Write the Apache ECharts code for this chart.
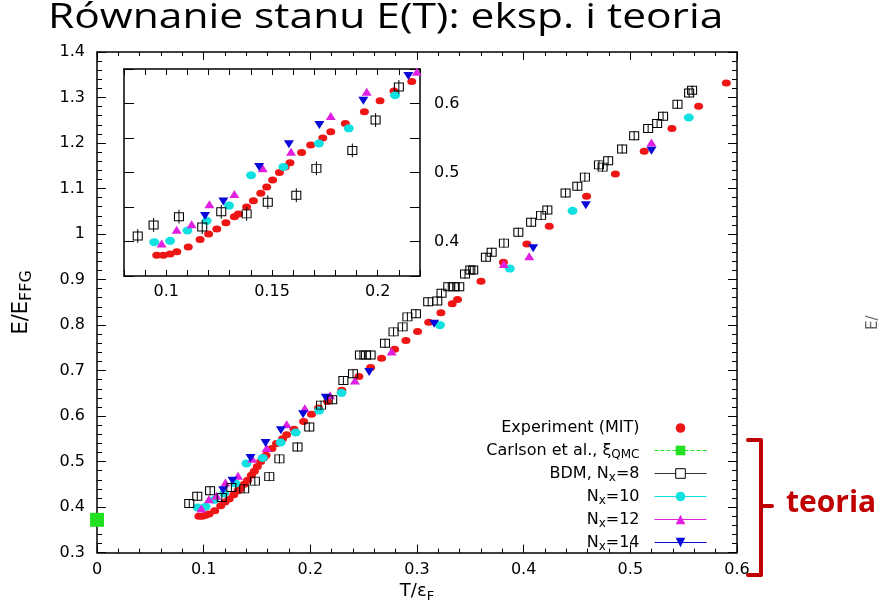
<!DOCTYPE html>
<html><head><meta charset="utf-8">
<script src="https://cdn.jsdelivr.net/npm/echarts@6/dist/echarts.min.js"></script>
<style>html,body{margin:0;padding:0;background:#fff}#c{width:879px;height:608px}</style>
</head><body><div id="c"></div>
<script>
// ---------------- data ----------------
const expT = [0.0955,0.0986,0.1018,0.105,0.1104,0.116,0.120,0.1239,0.1282,0.1322,0.1341,0.138,0.1412,0.1447,0.1475,0.1503,0.1535,0.1562,0.1585,0.164,0.1683,0.174,0.1778,0.1847,0.1937,0.2011,0.2077,0.2161,0.2295,0.2455,0.2565,0.2668,0.279,0.2896,0.3005,0.311,0.3224,0.333,0.338,0.360,0.381,0.403,0.424,0.459,0.486,0.513,0.539,0.564,0.590];
const expE = [0.380,0.380,0.382,0.385,0.392,0.403,0.411,0.418,0.427,0.436,0.440,0.450,0.459,0.470,0.479,0.489,0.500,0.508,0.514,0.529,0.540,0.550,0.559,0.571,0.588,0.604,0.618,0.632,0.657,0.687,0.707,0.727,0.747,0.766,0.786,0.806,0.827,0.847,0.856,0.896,0.938,0.978,1.017,1.083,1.132,1.182,1.232,1.281,1.332];

const carlsonT = [0];
const carlsonE = [0.372];

const bdmT = [0.0865,0.094,0.106,0.117,0.126,0.138,0.148,0.1615,0.171,0.188,0.199,0.210,0.2205,0.231,0.240,0.2465,0.2521,0.2565,0.270,0.278,0.2865,0.291,0.299,0.3105,0.319,0.323,0.3293,0.3346,0.3396,0.345,0.350,0.3527,0.3646,0.370,0.3815,0.395,0.407,0.4163,0.4222,0.4393,0.4503,0.4574,0.4706,0.474,0.4792,0.4923,0.5036,0.5167,0.5251,0.5307,0.5442,0.5551,0.5579];
const bdmE = [0.408,0.424,0.436,0.421,0.443,0.440,0.457,0.467,0.506,0.532,0.576,0.624,0.636,0.678,0.693,0.734,0.734,0.734,0.760,0.785,0.796,0.818,0.825,0.851,0.853,0.870,0.884,0.884,0.884,0.912,0.921,0.921,0.949,0.960,0.980,1.004,1.026,1.041,1.053,1.090,1.105,1.125,1.152,1.147,1.161,1.187,1.216,1.232,1.243,1.259,1.285,1.310,1.316];
const bdmErr = 0.01;

const n10T = [0.0943,0.1018,0.110,0.1191,0.1297,0.1401,0.1554,0.1722,0.1863,0.2082,0.2293,0.3215,0.387,0.4458,0.5548];
const n10E = [0.399,0.401,0.416,0.430,0.452,0.496,0.508,0.542,0.564,0.612,0.651,0.800,0.924,1.051,1.256];

const n12T = [0.0978,0.1049,0.112,0.1204,0.1322,0.1456,0.159,0.1778,0.1948,0.2185,0.2418,0.2762,0.3814,0.4052,0.5198];
const n12E = [0.397,0.417,0.425,0.454,0.469,0.506,0.530,0.582,0.617,0.646,0.678,0.742,0.934,0.951,1.201];

const n14T = [0.1183,0.127,0.1439,0.158,0.1724,0.1932,0.2145,0.2552,0.3161,0.4089,0.4583,0.5198];
const n14E = [0.437,0.458,0.508,0.541,0.569,0.604,0.640,0.697,0.803,0.969,1.063,1.183];

const seriesNames = ['Experiment (MIT)','Carlson et al., ξQMC','BDM, Nx=8','Nx=10','Nx=12','Nx=14'];
const legendTexts = ['Experiment (MIT)','Carlson et al., ξ{s|QMC}','BDM, N{s|x}=8','N{s|x}=10','N{s|x}=12','N{s|x}=14'];
const insetXLabels = ['0.1','0.15','0.2'];
const insetYLabels = ['0.4','0.5','0.6'];

// ---------------- styles ----------------
const FONT = 'DejaVu Sans';
const C = {exp:'#ee1515', carlson:'#22e022', bdm:'#000', n10:'#10e0e0', n12:'#e020e0', n14:'#0808d8'};

const pairs = (a,b) => a.map((v,i)=>[v,b[i]]);

function sc(name, T, E, g, sty) {
  return Object.assign({
    type:'line', name, data:pairs(T,E),
    xAxisIndex: g===0?0:2, yAxisIndex: g===0?0:2,
    lineStyle:{width:0}, showAllSymbol:true, clip:true, silent:true,
    emphasis:{disabled:true}, animation:false
  }, sty);
}
function errBars(g) {
  return {
    type:'custom', name:'bdm-err', xAxisIndex: g===0?0:2, yAxisIndex: g===0?0:2,
    clip:true, silent:true, z:5,
    data: bdmT.map((t,i)=>[t, bdmE[i]-bdmErr, bdmE[i]+bdmErr]),
    renderItem:(params, api) => {
      const a = api.coord([api.value(0), api.value(1)]);
      const b = api.coord([api.value(0), api.value(2)]);
      return {type:'line', shape:{x1:a[0],y1:a[1],x2:b[0],y2:b[1]}, style:{stroke:'#000', lineWidth:1}};
    }
  };
}
function seriesFor(g) {
  const out = [
    sc(seriesNames[0], expT, expE, g, {symbol:'circle', symbolSize:[9,7], itemStyle:{color:C.exp}, z:2}),
    sc(seriesNames[3], n10T, n10E, g, {symbol:'circle', symbolSize:[10,8], itemStyle:{color:C.n10}, z:3}),
    sc(seriesNames[4], n12T, n12E, g, {symbol:'triangle', symbolSize:[10,8], itemStyle:{color:C.n12}, z:3}),
    sc(seriesNames[5], n14T, n14E, g, {symbol:'triangle', symbolRotate:180, symbolSize:[10,8], itemStyle:{color:C.n14}, z:3}),
    sc(seriesNames[2], bdmT, bdmE, g, {symbol:'rect', symbolSize:[9,8], itemStyle:{color:'rgba(0,0,0,0)', borderColor:'#000', borderWidth:1}, z:4}),
    errBars(g)
  ];
  if (g===0) out.splice(1,0, sc(seriesNames[1], carlsonT, carlsonE, 0, {symbol:'rect', symbolSize:14, itemStyle:{color:C.carlson}, clip:false, z:3}));
  return out;
}

const lbl = {color:'#000', fontFamily:FONT, fontSize:16};
const axLine = {show:true, onZero:false, lineStyle:{color:'#000', width:1.5}};

function mainX(pos, show) {
  return {type:'value', gridIndex:0, position:pos, min:0, max:0.6, interval:0.1,
    axisLine:axLine, splitLine:{show:false},
    axisTick:{show:true, inside:true, length:8, lineStyle:{color:'#000', width:1}},
    minorTick:{show:true, splitNumber:5, length:4, lineStyle:{color:'#000', width:1}},
    axisLabel:Object.assign({show:show, margin:9}, lbl),
    name: show ? 'T/ε{s|F}' : '', nameLocation:'middle', nameGap:26,
    nameTextStyle:{color:'#000', fontFamily:FONT, fontSize:18, rich:{s:{fontSize:13, fontFamily:FONT, color:'#000', padding:[10,0,0,0]}}}};
}
function mainY(pos, show) {
  return {type:'value', gridIndex:0, position:pos, min:0.3, max:1.4, interval:0.1,
    axisLine:axLine, splitLine:{show:false},
    axisTick:{show:true, inside:true, length:9, lineStyle:{color:'#000', width:1}},
    minorTick:{show:true, splitNumber:5, length:5, lineStyle:{color:'#000', width:1}},
    axisLabel:Object.assign({show:show, margin:12}, lbl),
    name: show ? 'E/E{s|FFG}' : '', nameLocation:'middle', nameRotate:90, nameGap:62,
    nameTextStyle:{color:'#000', fontFamily:FONT, fontSize:21, rich:{s:{fontSize:16, fontFamily:FONT, color:'#000', padding:[11,0,0,0]}}}};
}
function insetX(pos, show) {
  return {type:'value', gridIndex:1, position:pos, min:0.08, max:0.22, interval:0.01,
    axisLine:axLine, splitLine:{show:false},
    axisTick:{show:true, inside:true, length:6, lineStyle:{color:'#000', width:1}},
    axisLabel:Object.assign({show:show, margin:8, showMinLabel:true, showMaxLabel:true,
      formatter:v=>{const r=Math.round(v*100); const i=[10,15,20].indexOf(r); return (i>=0 && Math.abs(v*100-r)<1e-6)?insetXLabels[i]:'';}}, lbl)};
}
function insetY(pos, show) {
  return {type:'value', gridIndex:1, position:pos, min:0.35, max:0.65, interval:0.05,
    axisLine:axLine, splitLine:{show:false},
    axisTick:{show:true, inside:true, length:10, lineStyle:{color:'#000', width:1}},
    axisLabel:Object.assign({show:show, margin:14,
      formatter:v=>{const r=Math.round(v*100); const i=[40,50,60].indexOf(r); return i>=0?insetYLabels[i]:'';}}, lbl)};
}

const legendData = [
  {name:seriesNames[0]},
  {name:seriesNames[1], lineStyle:{width:1, color:C.carlson, type:'dashed'}},
  {name:seriesNames[2], lineStyle:{width:1, color:'#333'}, itemStyle:{color:'#fff', borderColor:'#000', borderWidth:1}},
  {name:seriesNames[3], lineStyle:{width:1, color:C.n10}},
  {name:seriesNames[4], lineStyle:{width:1, color:C.n12}},
  {name:seriesNames[5], lineStyle:{width:1, color:C.n14}}
];

const RED = '#c00000';
const option = {
  backgroundColor:'#fff',
  animation:false,
  grid:[
    {left:97, top:52, width:640, height:505, containLabel:false},
    {left:124, top:69, width:296, height:207, containLabel:false}
  ],
  xAxis:[mainX('bottom',true), mainX('top',false), insetX('bottom',true), insetX('top',false)],
  yAxis:[mainY('left',true), mainY('right',false), insetY('left',false), insetY('right',true)],
  legend:{
    data:legendData, orient:'vertical', align:'right', right:172, top:418, padding:0,
    itemWidth:52, itemHeight:12, itemGap:2, selectedMode:false,
    formatter:n=>legendTexts[seriesNames.indexOf(n)],
    textStyle:{color:'#000', fontFamily:FONT, fontSize:16, lineHeight:20, padding:[0,10,0,0],
      rich:{s:{fontSize:12, fontFamily:FONT, color:'#000', lineHeight:20, padding:[9,0,0,0]}}}
  },
  series:[...seriesFor(0), ...seriesFor(1)],
  graphic:[
    {type:'text', x:48, y:1, scaleX:1.25, style:{text:'Równanie stanu E(T): eksp. i teoria', font:'34px "Open Sans"', fill:'#000'}},
    {type:'polyline', shape:{points:[[748,440],[761,440],[761,575],[748,575]]}, style:{stroke:RED, lineWidth:4, fill:null, lineJoin:'round', lineCap:'round'}},
    {type:'line', shape:{x1:761, y1:506, x2:772, y2:506}, style:{stroke:RED, lineWidth:4, lineCap:'round'}},
    {type:'text', left:786, top:488, style:{text:'teoria', font:'bold 30px "Open Sans"', fill:RED}},
    {type:'text', x:866, y:330, rotation:Math.PI/2, style:{text:'E/', font:'15px "DejaVu Sans"', fill:'#666'}}
  ]
};
echarts.init(document.getElementById('c'), null, {renderer:'canvas'}).setOption(option);
</script>
</body></html>
